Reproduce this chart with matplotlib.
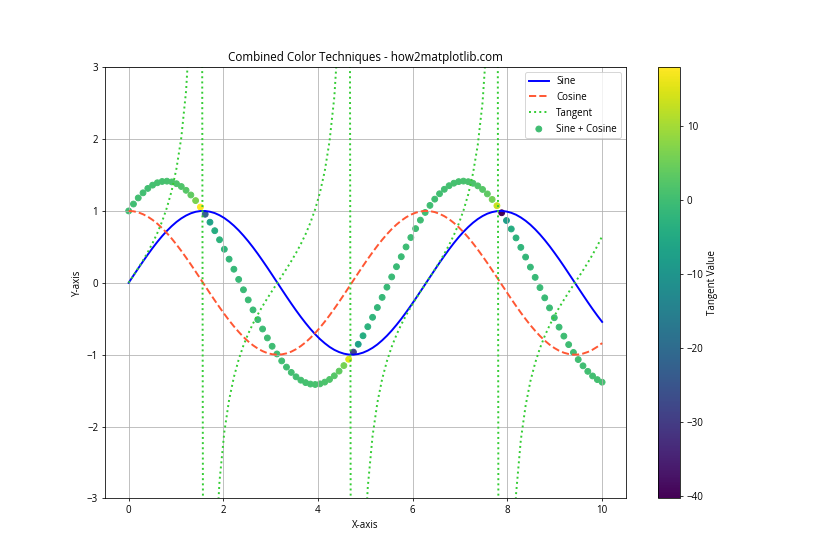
import numpy as np
import matplotlib
matplotlib.use("Agg")
import matplotlib.pyplot as plt

plt.rcParams['font.family'] = ['Open Sans', 'DejaVu Sans']

# 100 sample points from 0 to 10
x = np.linspace(0, 10, 100)

# values (3 decimals)
sine = [
    0.000, 0.101, 0.201, 0.298, 0.393, 0.484, 0.570, 0.650, 0.723, 0.789,
    0.847, 0.896, 0.936, 0.967, 0.988, 0.9985, 0.999, 0.989, 0.970, 0.940,
    0.901, 0.852, 0.795, 0.730, 0.657, 0.578, 0.493, 0.403, 0.308, 0.211,
    0.111, 0.010, -0.091, -0.191, -0.289, -0.384, -0.475, -0.561, -0.642, -0.716,
    -0.783, -0.841, -0.892, -0.933, -0.964, -0.986, -0.998, -0.9994, -0.991, -0.972,
    -0.943, -0.905, -0.858, -0.801, -0.737, -0.665, -0.586, -0.502, -0.412, -0.318,
    -0.221, -0.121, -0.021, 0.080, 0.180, 0.279, 0.374, 0.466, 0.553, 0.634,
    0.709, 0.776, 0.836, 0.887, 0.929, 0.962, 0.984, 0.997, 0.9997, 0.992,
    0.974, 0.947, 0.909, 0.863, 0.808, 0.744, 0.673, 0.595, 0.511, 0.421,
    0.328, 0.231, 0.131, 0.031, -0.070, -0.170, -0.269, -0.365, -0.457, -0.544,
]
cosine = [
    1.000, 0.995, 0.980, 0.954, 0.920, 0.875, 0.822, 0.760, 0.691, 0.615,
    0.532, 0.444, 0.351, 0.255, 0.156, 0.05562, -0.04535, -0.146, -0.245, -0.341,
    -0.434, -0.523, -0.606, -0.683, -0.754, -0.816, -0.870, -0.915, -0.951, -0.978,
    -0.994, -1.000, -0.996, -0.982, -0.958, -0.924, -0.880, -0.828, -0.767, -0.699,
    -0.623, -0.541, -0.453, -0.361, -0.265, -0.166, -0.06588, 0.03508, 0.136, 0.235,
    0.332, 0.425, 0.514, 0.598, 0.676, 0.747, 0.810, 0.865, 0.911, 0.948,
    0.975, 0.993, 1.000, 0.997, 0.984, 0.960, 0.927, 0.885, 0.833, 0.774,
    0.706, 0.631, 0.549, 0.462, 0.370, 0.275, 0.176, 0.07613, -0.02480, -0.125,
    -0.225, -0.322, -0.416, -0.505, -0.590, -0.668, -0.740, -0.804, -0.860, -0.907,
    -0.945, -0.973, -0.991, -1.000, -0.998, -0.985, -0.963, -0.931, -0.890, -0.839,
]

sine = np.array(sine)
cosine = np.array(cosine)
tangent = sine / cosine
combined = sine + cosine

plt.figure(figsize=(12, 8), dpi=70)

plt.plot(x, sine, color='blue', linewidth=2, label='Sine')
plt.plot(x, cosine, color='#FF5733', linestyle='--', linewidth=2, label='Cosine')
plt.plot(x, tangent, color=(0.2, 0.8, 0.2), linestyle=':', linewidth=2, label='Tangent')
scatter = plt.scatter(x, combined, c=tangent, cmap='viridis', label='Sine + Cosine')

plt.colorbar(scatter, label='Tangent Value')
plt.ylim(-3, 3)
plt.title('Combined Color Techniques - how2matplotlib.com')
plt.xlabel('X-axis')
plt.ylabel('Y-axis')
plt.legend()
plt.grid(True)

plt.savefig('out.png')
